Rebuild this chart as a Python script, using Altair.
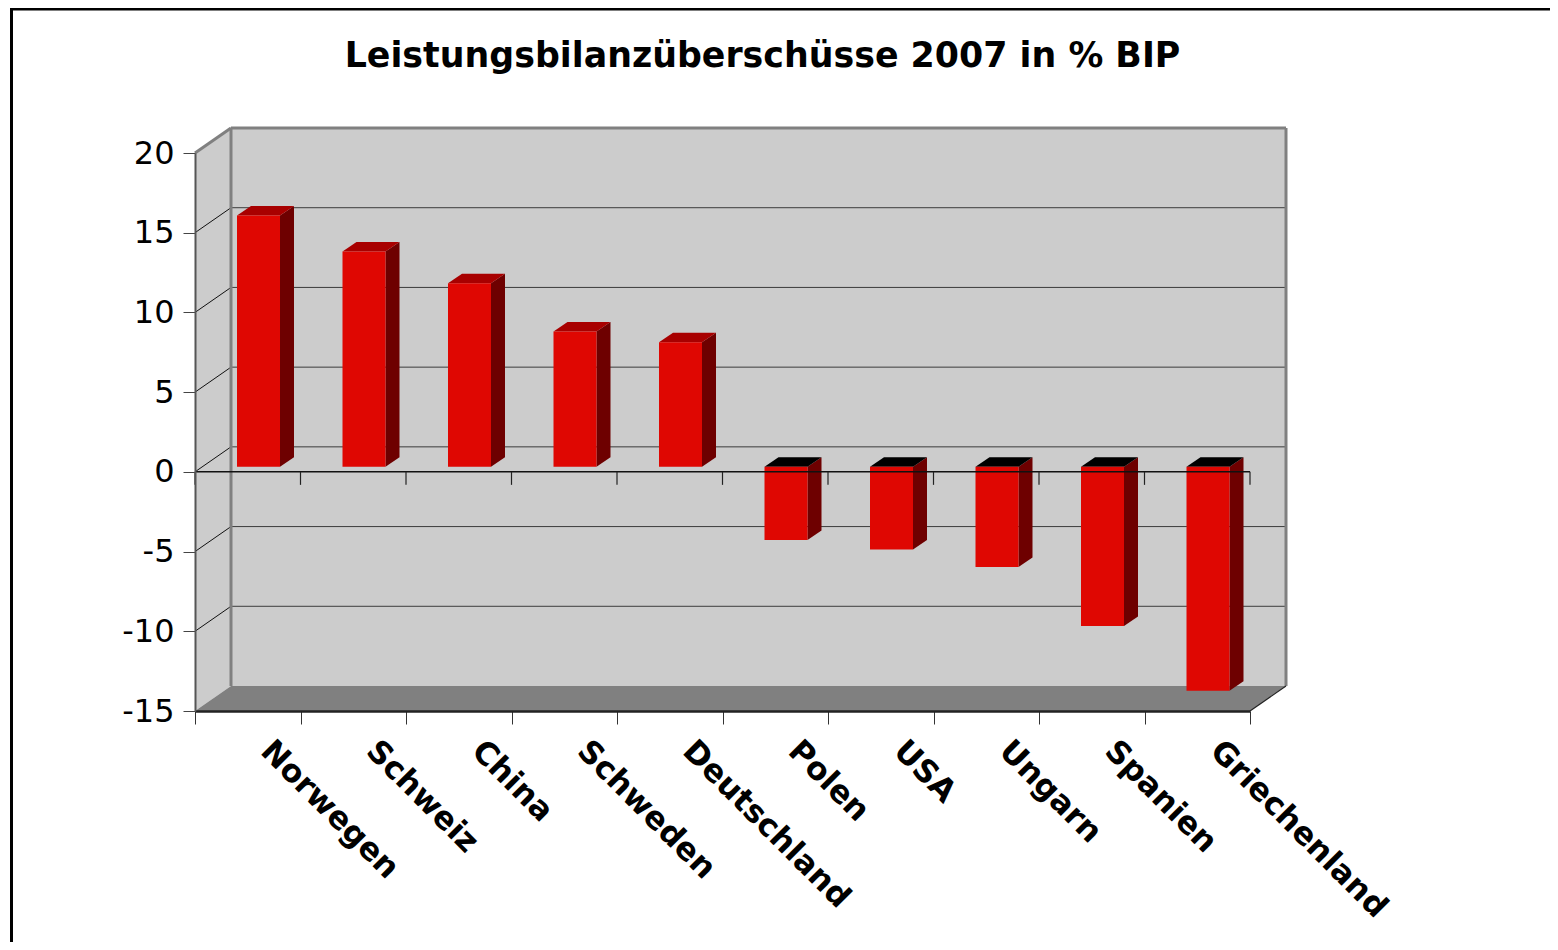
import json
import altair as alt
import pandas as pd

TITLE = "Leistungsbilanzüberschüsse 2007 in % BIP"
categories = ["Norwegen", "Schweiz", "China", "Schweden", "Deutschland",
              "Polen", "USA", "Ungarn", "Spanien", "Griechenland"]
values = [15.75, 13.5, 11.5, 8.47, 7.8, -4.6, -5.2, -6.3, -10.0, -14.05]
y_ticks = [-15, -10, -5, 0, 5, 10, 15, 20]

W, H = 1055, 558
PX, PY = W / 10, H / 35          # pixels per data unit
D_X, D_Y = 36 / PX, 25 / PY      # depth of the box
B_X, B_Y = 14 / PX, 9.5 / PY     # depth of a bar
BAR_L, BAR_W, BASE = 42 / PX, 43 / PX, 5.2 / PY

FONT = "DejaVu Sans"
C_FRONT, C_TOP, C_TOP_NEG, C_SIDE = "#df0702", "#a80000", "#000000", "#6e0000"
C_WALL, C_FLOOR, C_EDGE = "#cccccc", "#808080", "#808080"

xs = alt.Scale(domain=[0, 10], nice=False, zero=False)
ys = alt.Scale(domain=[-15, 20], nice=False, zero=False)

x_axis = alt.Axis(
    values=list(range(11)), domain=True, domainColor="#222222", domainWidth=2.5,
    ticks=True, tickColor="#333333", tickSize=13, tickWidth=1, grid=False,
    labelExpr=json.dumps(categories + [""]) + "[datum.value]",
    labelAngle=45, labelAlign="left", labelBaseline="middle",
    labelFont=FONT, labelFontWeight="bold", labelFontSize=31.5, labelColor="black",
    labelOffset=70, labelPadding=22, labelOverlap=False, labelBound=False,
    labelFlush=False, labelLimit=600, zindex=1,
)
y_axis = alt.Axis(
    values=y_ticks, domain=True, domainColor="#555555", domainWidth=2,
    ticks=True, tickColor="#444444", tickSize=12, tickWidth=1, grid=False,
    labelExpr="'' + datum.value",
    labelFont=FONT, labelFontSize=32, labelColor="black", labelPadding=9,
    labelOverlap=False, labelBound=False, labelFlush=False, zindex=1,
)


def X(f="x", **k):
    return alt.X(f"{f}:Q", scale=xs, axis=x_axis, title=None, **k)


def Y(f="y", **k):
    return alt.Y(f"{f}:Q", scale=ys, axis=y_axis, title=None, **k)


def segs(rows, color, width):
    df = pd.DataFrame(rows, columns=["x", "y", "x2", "y2"])
    return alt.Chart(df).mark_rule(color=color, strokeWidth=width).encode(
        x=X(), y=Y(), x2="x2:Q", y2="y2:Q"
    )


# Box: walls and floor -------------------------------------------------------
back = alt.Chart(pd.DataFrame([{"x": D_X, "x2": 10 + D_X, "y": -15 + D_Y, "y2": 20 + D_Y}])).mark_rect(
    color=C_WALL).encode(x=X(), x2="x2:Q", y=Y(), y2="y2:Q")

left_wall = alt.Chart(pd.DataFrame([
    {"x": 0, "y": -15, "y2": 20},
    {"x": D_X, "y": -15 + D_Y, "y2": 20 + D_Y},
])).mark_area(orient="vertical", color=C_WALL).encode(x=X(), y=Y(), y2="y2:Q")

floor = alt.Chart(pd.DataFrame([
    {"y": -15, "x": 0, "x2": 10},
    {"y": -15 + D_Y, "x": D_X, "x2": 10 + D_X},
])).mark_area(orient="horizontal", color=C_FLOOR).encode(y=Y(), x=X(), x2="x2:Q")

grid_back = segs([[D_X, v + D_Y, 10 + D_X, v + D_Y] for v in y_ticks[1:-1]], "#3c3c3c", 1)
grid_side = segs([[0, v, D_X, v + D_Y] for v in y_ticks[1:-1]], "#111111", 1)
edges = segs([
    [0, 20, D_X, 20 + D_Y],
    [D_X, 20 + D_Y, 10 + D_X, 20 + D_Y],
    [10 + D_X, 20 + D_Y, 10 + D_X, -15 + D_Y],
    [D_X, 20 + D_Y, D_X, -15 + D_Y],
], C_EDGE, 3)
floor_edge = segs([[10, -15, 10 + D_X, -15 + D_Y]], "#222222", 1.2)

# Bars -----------------------------------------------------------------------
fronts, tops, sides = [], [], []
for i, (c, v) in enumerate(zip(categories, values)):
    left = i + BAR_L
    right = left + BAR_W
    hi = BASE + max(v, 0)
    lo = BASE + min(v, 0)
    sign = "pos" if v >= 0 else "neg"
    fronts.append({"c": c, "x": left, "x2": right, "y": lo, "y2": hi})
    tops += [
        {"c": c, "s": sign, "y": hi, "x": left, "x2": right},
        {"c": c, "s": sign, "y": hi + B_Y, "x": left + B_X, "x2": right + B_X},
    ]
    sides += [
        {"c": c, "x": right, "y": lo, "y2": hi},
        {"c": c, "x": right + B_X, "y": lo + B_Y, "y2": hi + B_Y},
    ]

bar_side = alt.Chart(pd.DataFrame(sides)).mark_area(orient="vertical", color=C_SIDE).encode(
    x=X(), y=Y(), y2="y2:Q", detail="c:N")
bar_top = alt.Chart(pd.DataFrame(tops)).mark_area(orient="horizontal").encode(
    y=Y(), x=X(), x2="x2:Q", detail="c:N",
    color=alt.Color("s:N", scale=alt.Scale(domain=["pos", "neg"], range=[C_TOP, C_TOP_NEG]), legend=None))
bar_front = alt.Chart(pd.DataFrame(fronts)).mark_rect(color=C_FRONT).encode(
    x=X(), x2="x2:Q", y=Y(), y2="y2:Q")

# Zero line and its ticks ----------------------------------------------------
zero_line = segs([[0, 0, 10, 0]], "#111111", 1.5)
zero_ticks = segs([[i, 0, i, -13 / PY] for i in range(11)], "#222222", 1.2)

# Outer frame ----------------------------------------------------------------
frame_df = pd.DataFrame({"a": [0]})
frame_top = alt.Chart(frame_df).mark_rule(color="black", strokeWidth=5).encode(
    x=alt.value(-185), x2=alt.value(1400), y=alt.value(-145))
frame_left = alt.Chart(frame_df).mark_rule(color="black", strokeWidth=3).encode(
    x=alt.value(-183.5), y=alt.value(-146), y2=alt.value(800))

chart = alt.layer(
    frame_top, frame_left, back, left_wall, floor, grid_back, grid_side, edges, floor_edge,
    bar_side, bar_top, bar_front, zero_line, zero_ticks,
).properties(
    width=W, height=H,
    padding={"left": 187, "top": 145, "right": 300, "bottom": 231},
    autosize=alt.AutoSizeParams(type="none"),
    title=alt.TitleParams(TITLE, font=FONT, fontSize=34.8, fontWeight="bold", color="black",
                          anchor="middle", dx=40, offset=-69),
    background="white",
).configure_view(strokeWidth=0)

chart.save("out.html", embed_options={"renderer": "svg", "actions": False})
